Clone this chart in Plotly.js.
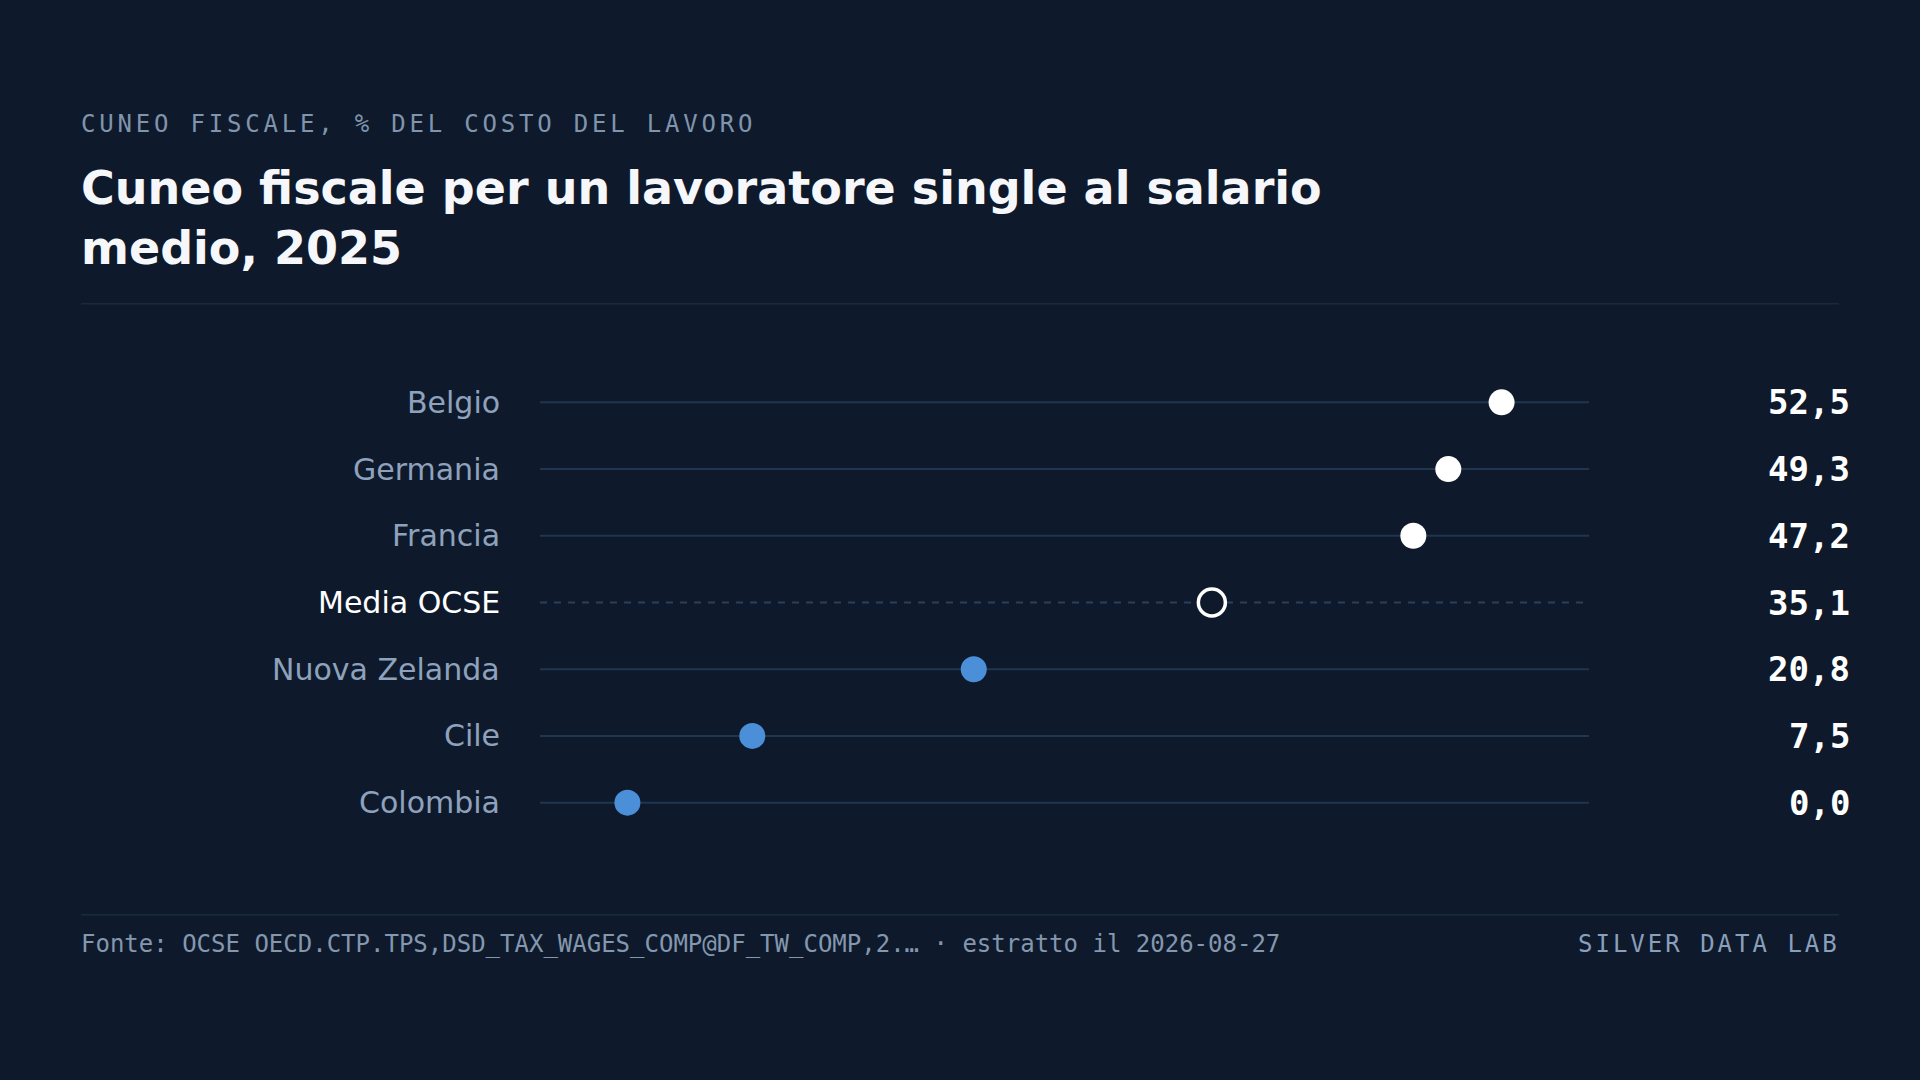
<!DOCTYPE html>
<html>
<head>
<meta charset="utf-8">
<script src="https://cdn.plot.ly/plotly-3.0.1.min.js"></script>
<style>
  html, body { margin: 0; padding: 0; background: #0e1a2b; }
  #grafico { width: 1920px; height: 1080px; }
  /* spaziatura lettere per occhiello e firma */
  g.annotation[data-index="0"] .annotation-text { letter-spacing: 3.8px; }
  g.annotation[data-index="3"] .annotation-text { letter-spacing: 3px; }
</style>
</head>
<body>
<div id="grafico"></div>
<script>
// Dati: cuneo fiscale, % del costo del lavoro, 2025
const paesi = ["Belgio", "Germania", "Francia", "Media OCSE", "Nuova Zelanda", "Cile", "Colombia"];
const cuneo = [52.5, 49.3, 47.2, 35.1, 20.8, 7.5, 0.0];
const MEDIA = "Media OCSE";

const SFONDO = "#0e1a2b";
const LINEA = "#1f3550";
const BIANCO = "#ffffff";
const BLU = "#4a8fd8";
const GRIGIO = "#8ea2bd";

// area del grafico in pixel
const L = 540, R = 1589, T = 368.8, B = 835.8;
const px = x => (x - L) / (R - L);
const py = y => (B - y) / (B - T);

const valoreMedia = cuneo[paesi.indexOf(MEDIA)];
const minV = Math.min(...cuneo), maxV = Math.max(...cuneo);
const pad = (maxV - minV) * 0.1;

const fmt = v => v.toFixed(1).replace(".", ",");

const colori = paesi.map((p, i) => p === MEDIA ? SFONDO : (cuneo[i] > valoreMedia ? BIANCO : BLU));
const bordi = paesi.map((p, i) => p === MEDIA ? BIANCO : colori[i]);
const spessori = paesi.map(p => p === MEDIA ? 3.5 : 0);
const dimensioni = paesi.map(p => p === MEDIA ? 27 : 26);

const data = [{
    type: "scatter",
    mode: "markers",
    x: cuneo,
    y: paesi,
    marker: { size: dimensioni, opacity: 1, color: colori, line: { color: bordi, width: spessori } },
    hoverinfo: "skip",
    cliponaxis: false
}];

const righe = paesi.map(p => ({
    type: "line", xref: "paper", x0: 0, x1: 1, yref: "y", y0: p, y1: p,
    layer: "below",
    line: { color: p === MEDIA ? "#26405f" : LINEA, width: 2, dash: p === MEDIA ? "7px,7px" : "solid" }
}));

const separatori = [303.5, 914.5].map(y => ({
    type: "line", xref: "paper", yref: "paper",
    x0: px(81), x1: px(1839), y0: py(y), y1: py(y),
    line: { color: "#182a40", width: 1.5 }
}));

const annotazioni = [
    {   // occhiello
        text: "CUNEO FISCALE, % DEL COSTO DEL LAVORO",
        xref: "paper", yref: "paper", x: px(79), y: py(124),
        xanchor: "left", yanchor: "middle", align: "left", showarrow: false,
        font: { family: "DejaVu Sans Mono", size: 24, color: "#8094ad" }
    },
    {   // titolo
        text: "Cuneo fiscale per un lavoratore single al salario<br>medio, 2025",
        xref: "paper", yref: "paper", x: px(78.5), y: py(217.5),
        xanchor: "left", yanchor: "middle", align: "left", showarrow: false,
        font: { family: "DejaVu Sans", size: 46, weight: 700, color: "#f5f7fa" }
    },
    {   // fonte
        text: "Fonte: OCSE OECD.CTP.TPS,DSD_TAX_WAGES_COMP@DF_TW_COMP,2.… · estratto il 2026-08-27",
        xref: "paper", yref: "paper", x: px(78.5), y: py(944),
        xanchor: "left", yanchor: "middle", showarrow: false,
        font: { family: "DejaVu Sans Mono", size: 24, color: "#8497ae" }
    },
    {   // firma
        text: "SILVER DATA LAB",
        xref: "paper", yref: "paper", x: px(1842), y: py(944),
        xanchor: "right", yanchor: "middle", align: "right", showarrow: false,
        font: { family: "DejaVu Sans Mono", size: 24, color: "#8a9fbb" }
    }
];

paesi.forEach((p, i) => {
    annotazioni.push({
        text: p, xref: "paper", yref: "y", x: px(501.5), y: p,
        xanchor: "right", yanchor: "middle", showarrow: false,
        font: { family: "DejaVu Sans", size: 30, color: p === MEDIA ? BIANCO : GRIGIO }
    });
    annotazioni.push({
        text: fmt(cuneo[i]), xref: "paper", yref: "y", x: px(1851.5), y: p,
        xanchor: "right", yanchor: "middle", showarrow: false,
        font: { family: "DejaVu Sans Mono", size: 34, weight: 700, color: BIANCO }
    });
});

const layout = {
    width: 1920, height: 1080,
    margin: { l: L, r: 1920 - R, t: T, b: 1080 - B },
    paper_bgcolor: SFONDO, plot_bgcolor: SFONDO,
    showlegend: false,
    xaxis: { range: [minV - pad, maxV + pad], visible: false, fixedrange: true },
    yaxis: {
        type: "category", categoryorder: "array", categoryarray: paesi,
        range: [paesi.length - 0.5, -0.5], visible: false, fixedrange: true
    },
    shapes: righe.concat(separatori),
    annotations: annotazioni
};

Plotly.newPlot("grafico", data, layout, { displayModeBar: false, staticPlot: true });
</script>
</body>
</html>
